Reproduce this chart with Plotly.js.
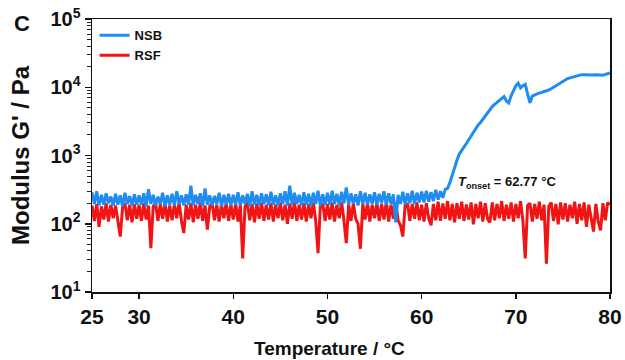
<!DOCTYPE html>
<html><head><meta charset="utf-8">
<script src="https://cdn.plot.ly/plotly-3.0.1.min.js"></script>
<style>html,body{margin:0;padding:0;background:#fff}#chart{width:625px;height:360px}</style>
</head><body><div id="chart"></div>
<script>
// Temperature grid: starts at 25 °C, one reading every 0.25 °C up to 80 °C
const tempStart = 25;
const tempStep = 0.25;

// NSB storage modulus G' (Pa)
const nsbModulus = [
  290, 195, 300, 185, 265, 190, 280, 200, 250, 185, 275, 190, 260, 180, 285, 195, 255, 185, 270, 190,
  260, 190, 280, 180, 320, 195, 265, 185, 250, 195, 285, 180, 260, 190, 275, 185, 300, 195, 260, 185,
  270, 190, 360, 185, 265, 195, 280, 180, 330, 190, 260, 185, 255, 195, 285, 180, 265, 190, 275, 185,
  265, 190, 290, 185, 260, 195, 275, 180, 300, 190, 265, 185, 280, 195, 270, 185, 295, 190, 260, 185,
  280, 195, 300, 185, 360, 190, 285, 195, 265, 185, 290, 190, 275, 180, 285, 195, 305, 185, 270, 190,
  285, 190, 305, 195, 275, 185, 295, 200, 340, 190, 280, 195, 270, 185, 300, 195, 285, 190, 270, 195,
  290, 190, 275, 200, 300, 190, 280, 195, 270, 105, 265, 195, 295, 190, 280, 200, 305, 195, 285, 205,
  295, 205, 305, 210, 290, 215, 315, 225, 300, 240, 320, 330,
  400, 520, 690, 850, 1050, 1200, 1350, 1500, 1700, 1950, 2200, 2500, 2800, 3050, 3400, 3800,
  4200, 4700, 5200, 5600, 6000, 6400, 6900, 7300, 6300, 5900, 7500, 9000, 10500, 11500, 9800, 10500,
  11000, 8000, 5900, 7400, 7800, 8000, 8200, 8400, 8600, 8800, 9100, 9500, 10000, 10600, 11200, 11800,
  12400, 13000, 13400, 13700, 14000, 14300, 14700, 15100, 15300, 15300, 15200, 15300, 15200, 15100, 15200, 15300,
  15100, 15000, 15300, 15800, 16200
];

// RSF storage modulus G' (Pa)
const rsfModulus = [
  185, 110, 195, 90, 180, 115, 200, 108, 190, 120, 185, 110, 65, 175, 200, 112, 190, 105, 195, 118,
  190, 110, 200, 115, 185, 44, 180, 200, 110, 195, 118, 205, 108, 185, 112, 195, 120, 205, 110, 73,
  190, 115, 200, 105, 190, 118, 205, 110, 185, 82, 180, 200, 112, 190, 108, 195, 120, 205, 110, 190,
  115, 200, 108, 190, 31, 180, 205, 112, 195, 105, 198, 118, 205, 110, 190, 115, 200, 108, 192, 120,
  205, 112, 190, 100, 198, 118, 210, 110, 190, 115, 200, 108, 195, 120, 205, 112, 37, 185, 200, 110,
  195, 115, 205, 108, 190, 120, 210, 112, 52, 190, 110, 200, 118, 100, 43, 195, 115, 205, 108, 190,
  120, 200, 110, 195, 115, 210, 108, 190, 118, 205, 112, 95, 65, 185, 200, 110, 195, 118, 205, 112,
  190, 108, 200, 120, 95, 195, 112, 210, 110, 198, 118, 215, 112, 195, 105, 200, 118, 210, 110, 192,
  115, 205, 98, 195, 120, 210, 108, 200, 118, 105, 205, 112, 195, 120, 215, 110, 190, 118, 205, 108,
  195, 120, 215, 112, 31, 185, 200, 108, 195, 118, 210, 112, 190, 26, 180, 205, 110, 195, 98, 205,
  115, 200, 108, 190, 120, 210, 100, 195, 112, 205, 90, 190, 115, 77, 195, 108, 80, 200, 112, 205,
  190
];

const seriesNames = ['NSB', 'RSF'];
const seriesColors = ['#1E8CF0', '#F01414'];
const xTickVals = [25, 30, 40, 50, 60, 70, 80];
const yTickVals = [10, 100, 1000, 10000, 100000];
const yTickText = ['10<sup>1</sup>', '10<sup>2</sup>', '10<sup>3</sup>', '10<sup>4</sup>', '10<sup>5</sup>'];
const onsetTemp = 62.77;
const onsetLabel = '<i>T</i><sub>onset</sub> = 62.77 °C';
const panelLabel = 'C';
const xTitle = 'Temperature / °C';
const yTitle = "Modulus G' / Pa";

// minor tick positions on the log axis (2..9 within each decade)
const yMinorVals = [];
for (let d = 0; d < yTickVals.length - 1; d++) {
  for (let k = 2; k <= 9; k++) yMinorVals.push(yTickVals[d] * k);
}

const fontFam = 'Liberation Sans Narrow, Arial Narrow, Liberation Sans, Arial, sans-serif';
const fontFamWide = 'Liberation Sans, Arial, sans-serif';

const traces = [
  {
    x0: tempStart, dx: tempStep, y: rsfModulus, type: 'scatter', mode: 'lines',
    name: seriesNames[1], line: {color: seriesColors[1], width: 3}, legendrank: 2
  },
  {
    x0: tempStart, dx: tempStep, y: nsbModulus, type: 'scatter', mode: 'lines',
    name: seriesNames[0], line: {color: seriesColors[0], width: 3}, legendrank: 1
  }
];

const layout = {
  width: 625, height: 360,
  margin: {l: 92, r: 15, t: 19, b: 68},
  paper_bgcolor: '#ffffff', plot_bgcolor: '#ffffff',
  showlegend: true,
  legend: {
    x: 0.005, y: 0.995, xanchor: 'left', yanchor: 'top',
    bgcolor: 'rgba(0,0,0,0)', borderwidth: 0,
    font: {family: fontFamWide, size: 13, color: '#111', weight: 700},
    tracegroupgap: 0, itemwidth: 30
  },
  xaxis: {
    range: [25, 80], tickvals: xTickVals, ticktext: xTickVals.map(String),
    showline: true, linecolor: '#111', linewidth: 1.5, mirror: true,
    ticks: 'outside', ticklen: 5, tickwidth: 1.5, tickcolor: '#111',
    showgrid: false, zeroline: false,
    tickfont: {family: fontFam, size: 21, color: '#111', weight: 700},
    title: {text: ''}
  },
  yaxis: {
    type: 'log', range: [1, 5], tickmode: 'array', tickvals: yTickVals, ticktext: yTickText,
    showline: true, linecolor: '#111', linewidth: 1.5, mirror: true,
    ticks: 'outside', ticklen: 6, tickwidth: 1.5, tickcolor: '#111',
    minor: {tickmode: 'array', tickvals: yMinorVals, ticks: 'outside', ticklen: 4, tickwidth: 1, tickcolor: '#222', showgrid: false},
    showgrid: false, zeroline: false,
    tickfont: {family: fontFam, size: 20, color: '#111', weight: 700},
    title: {text: yTitle, font: {family: fontFamWide, size: 24, color: '#111', weight: 700}, standoff: 14}
  },
  shapes: [
    {type: 'line', xref: 'x', yref: 'y', x0: onsetTemp, x1: onsetTemp, y0: 2.38, y1: 2.77,
     line: {color: '#111', width: 1, dash: 'dot'}}
  ],
  annotations: [
    {text: panelLabel, xref: 'paper', yref: 'paper', x: -0.135, y: 0.985, xanchor: 'center', yanchor: 'middle',
     showarrow: false, font: {family: fontFamWide, size: 22, color: '#111', weight: 700}},
    {text: onsetLabel, xref: 'x', yref: 'y', x: onsetTemp + 0.9, y: 2.6, xanchor: 'left', yanchor: 'middle',
     showarrow: false, font: {family: fontFamWide, size: 13, color: '#111', weight: 700}},
    {text: xTitle, xref: 'paper', yref: 'paper', x: (329 - 92) / 518, y: -0.163, xanchor: 'center', yanchor: 'top',
     showarrow: false, font: {family: fontFamWide, size: 19, color: '#111', weight: 700}}
  ]
};

Plotly.newPlot('chart', traces, layout, {displayModeBar: false, staticPlot: true});
</script>
</body></html>
